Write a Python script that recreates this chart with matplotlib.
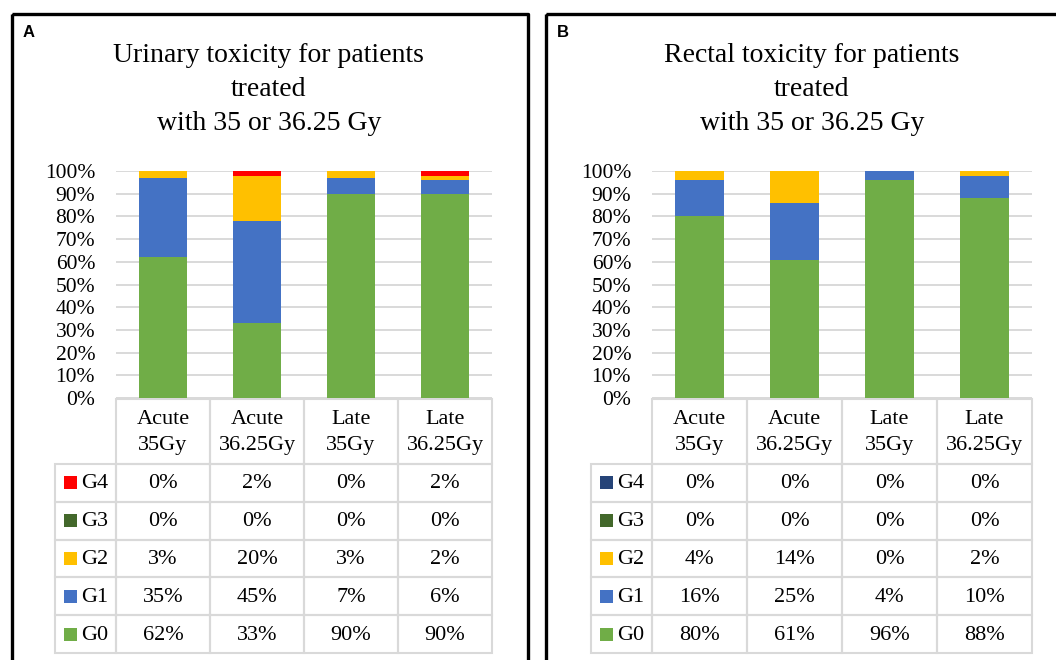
import matplotlib
matplotlib.use("Agg")
import numpy as np
import matplotlib.pyplot as plt
from matplotlib.patches import Rectangle

plt.rcParams["font.family"] = ["Liberation Serif", "DejaVu Serif"]

W, H = 1056, 660

categories = ["Acute\n35Gy", "Acute\n36.25Gy", "Late\n35Gy", "Late\n36.25Gy"]
grades = ["G0", "G1", "G2", "G3", "G4"]
yticks = [0, 10, 20, 30, 40, 50, 60, 70, 80, 90, 100]

# urinary toxicity, percent of patients per grade
urinary_g0 = [62, 33, 90, 90]
urinary_g1 = [35, 45, 7, 6]
urinary_g2 = [3, 20, 3, 2]
urinary_g3 = [0, 0, 0, 0]
urinary_g4 = [0, 2, 0, 2]

# rectal toxicity, percent of patients per grade
rectal_g0 = [80, 61, 96, 88]
rectal_g1 = [16, 25, 4, 10]
rectal_g2 = [4, 14, 0, 2]
rectal_g3 = [0, 0, 0, 0]
rectal_g4 = [0, 0, 0, 0]

urinary_colors = ["#70ad47", "#4472c4", "#ffc000", "#43682b", "#ff0000"]
rectal_colors = ["#70ad47", "#4472c4", "#ffc000", "#43682b", "#264478"]

urinary_title = ["Urinary toxicity for patients", "treated", "with 35 or 36.25 Gy"]
rectal_title = ["Rectal toxicity for patients", "treated", "with 35 or 36.25 Gy"]

GRID = "#d9d9d9"


def px_rect(x0, y0, x1, y1):
    # pixel box (top-left origin) -> figure fraction rect
    return [x0 / W, 1 - y1 / H, (x1 - x0) / W, (y1 - y0) / H]


def draw_panel(fig, page, letter, title, series, colors,
               frame_x0, frame_x1, label_x0, plot_x0, plot_x1):
    y_top, y_zero = 171, 398
    head_top, head_bot, table_bot = 399, 464, 653

    # black frame around the panel
    page.add_patch(Rectangle((frame_x0, 14), frame_x1 - frame_x0, 700,
                             fill=False, ec="black", lw=2.4, joinstyle="round"))
    page.text(frame_x0 + 11, 37, letter, family="Liberation Sans",
              weight="bold", fontsize=12, va="baseline")

    center = (frame_x0 + frame_x1) / 2 - 1
    for line, base in zip(title, [62, 96, 130]):
        page.text(center, base, line, ha="center", va="baseline", fontsize=20)

    # stacked bars
    ax = fig.add_axes(px_rect(plot_x0, y_top, plot_x1, y_zero))
    ax.set_facecolor("none")
    x = np.arange(len(categories))
    bottom = np.zeros(len(categories))
    for vals, c in zip(series, colors):
        ax.bar(x, vals, 0.51, bottom=bottom, color=c, zorder=3)
        bottom += np.array(vals)
    ax.set_xlim(-0.5, len(categories) - 0.5)
    ax.set_ylim(0, 100)
    ax.set_yticks(yticks)
    ax.set_yticklabels([f"{v}%" for v in yticks], fontsize=15.5)
    ax.set_xticks([])
    ax.tick_params(axis="y", length=0, pad=15)
    ax.grid(axis="y", color=GRID, lw=1.4, zorder=0)
    for s in ax.spines.values():
        s.set_visible(False)

    # data table below the bars
    cols = np.linspace(plot_x0, plot_x1, len(categories) + 1)
    rows = np.linspace(head_bot, table_bot, len(grades) + 1)
    for i, cat in enumerate(categories):
        page.add_patch(Rectangle((cols[i], head_top), cols[i + 1] - cols[i],
                                 head_bot - head_top, fill=False, ec=GRID, lw=1.5))
        page.text((cols[i] + cols[i + 1]) / 2, (head_top + head_bot) / 2 + 1, cat,
                  ha="center", va="center", fontsize=16, linespacing=1.5)

    for r, g in enumerate(reversed(range(len(grades)))):
        y0, y1 = rows[r], rows[r + 1]
        yc = (y0 + y1) / 2
        page.add_patch(Rectangle((label_x0, y0), plot_x0 - label_x0, y1 - y0,
                                 fill=False, ec=GRID, lw=1.5))
        page.add_patch(Rectangle((label_x0 + 9, yc - 6.5), 13, 13,
                                 color=colors[g], lw=0))
        page.text(label_x0 + 26, yc + 1, grades[g], va="center", fontsize=16)
        for i, v in enumerate(series[g]):
            page.add_patch(Rectangle((cols[i], y0), cols[i + 1] - cols[i], y1 - y0,
                                     fill=False, ec=GRID, lw=1.5))
            page.text((cols[i] + cols[i + 1]) / 2, yc + 1, f"{v}%",
                      ha="center", va="center", fontsize=16)


fig = plt.figure(figsize=(W / 100, H / 100), dpi=100)
page = fig.add_axes([0, 0, 1, 1])
page.set_xlim(0, W)
page.set_ylim(H, 0)
page.axis("off")

draw_panel(fig, page, "A", urinary_title,
           [urinary_g0, urinary_g1, urinary_g2, urinary_g3, urinary_g4],
           urinary_colors, 11.5, 528, 55, 116, 492)
draw_panel(fig, page, "B", rectal_title,
           [rectal_g0, rectal_g1, rectal_g2, rectal_g3, rectal_g4],
           rectal_colors, 546, 1080, 591, 652, 1032)

fig.savefig("out.png", dpi=100)
